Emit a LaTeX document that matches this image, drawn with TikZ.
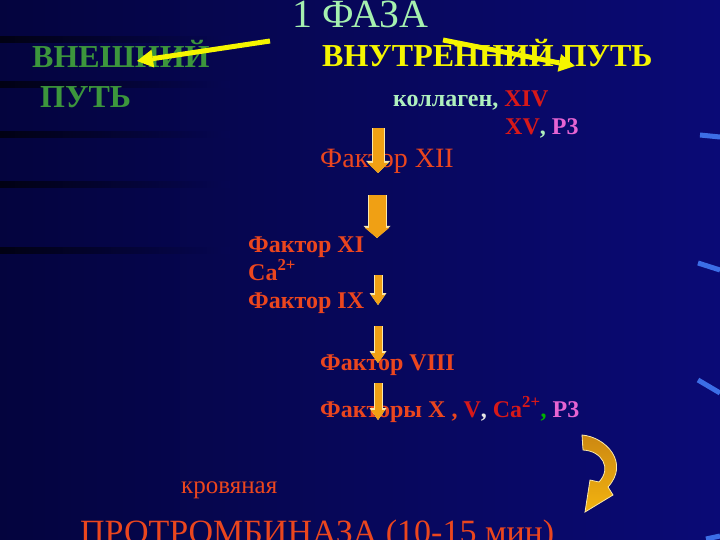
\documentclass[tikz,border=0pt]{standalone}
\usepackage{fontspec}
\setmainfont{Liberation Serif}
\usetikzlibrary{arrows.meta}
\definecolor{bgdark}{RGB}{4,4,62}
\definecolor{bglight}{RGB}{10,10,118}
\definecolor{bgmid}{RGB}{6,6,82}
\definecolor{phasegreen}{RGB}{165,240,175}
\definecolor{pathgreen}{RGB}{60,150,60}
\definecolor{pathyellow}{RGB}{245,245,0}
\definecolor{palegreen}{RGB}{175,240,190}
\definecolor{factred}{RGB}{235,70,30}
\definecolor{deepred}{RGB}{215,25,25}
\definecolor{pthree}{RGB}{230,100,210}
\definecolor{flowfill}{RGB}{240,160,20}
\definecolor{flowedge}{RGB}{250,232,170}
\definecolor{streak}{RGB}{60,110,230}
\newcommand{\fsz}[1]{\fontsize{#1}{#1}\selectfont}

\begin{document}
\begin{tikzpicture}
[x=1pt, y=-1pt,
 nodes={inner sep=0pt, anchor=base west},
 title/.style={font=\fsz{40}, text=phasegreen, anchor=base},
 way/.style={font=\fsz{32}\bfseries},
 factor/.style={font=\fsz{24}\bfseries, text=factred},
 pointer/.style={draw=pathyellow, line width=5pt, -{Triangle[length=16pt,width=18pt,line width=0pt]}},
 flow/.style n args={4}{preaction={draw=flowedge, line width=#2, -{Triangle[length=12pt,width=#4,line width=0pt]}},
   draw=flowfill, line width=#1, -{Triangle[length=10pt,width=#3,line width=0pt]}}]
\useasboundingbox (0,0) rectangle (720,540);
% background
\shade[left color=bgdark, right color=bglight] (0,0) rectangle (720,540);
\foreach \y in {40,85,135,185,250}
  \shade[left color=black!70!bgdark, right color=bgmid] (0,\y-3) rectangle (230,\y+3);
\draw[streak, line width=5pt] (700,135) -- (720,137);
\draw[streak, line width=5pt] (698,263) -- (720,270);
\draw[streak, line width=5pt] (698,380) -- (720,393);
\draw[streak, line width=5pt] (706,539) -- (720,536);

% headings
\node[title] (phase) at (360,28) {1 ФАЗА};
\node[way, text=pathgreen] (outer) at (32,68) {ВНЕШНИЙ};
\node[way, text=pathgreen] (outerway) at (40,108) {ПУТЬ};
\node[way, text=pathyellow] (inner) at (322,67) {ВНУТРЕННИЙ ПУТЬ};
\node[factor, text=palegreen] (collagen) at (393,107) {коллаген, \textcolor{deepred}{XIV}};
\node[factor, text=deepred] (fxv) at (505,135) {XV\textcolor{palegreen}{,} \textcolor{pthree}{P3}};

% cascade
\node[factor, font=\fsz{28}] (f12) at (320,168) {Фактор XII};
\node[factor] (f11) at (248,252) {Фактор XI};
\node[factor] (ca) at (248,280) {Ca\textsuperscript{2+}};
\node[factor] (f9) at (248,308) {Фактор IX};
\node[factor] (f8) at (320,370) {Фактор VIII};
\node[factor] (f10) at (320,417) {Факторы X , \textcolor{deepred}{V}\textcolor{white!80!gray}{,}
  \textcolor{deepred}{Ca\textsuperscript{2+}}\textcolor{green!70!black}{,} \textcolor{pthree}{P3}};
\node[factor, font=\fsz{25}] (blood) at (181,493) {кровяная};
\node[factor, font=\fsz{34}] (prothr) at (80,543) {ПРОТРОМБИНАЗА (10-15 мин)};

% arrows
\coordinate (ls) at (270,41);
\coordinate (le) at (137,61);
\coordinate (rs) at (443,40);
\coordinate (re) at (575,66);
\draw[pointer] (ls) -- (le);
\draw[pointer] (rs) -- (re);

\coordinate (a1) at (378,128);
\coordinate (a1e) at (378,173);
\coordinate (a2) at (377,195);
\coordinate (a2e) at (377,238);
\coordinate (a3) at (378,275);
\coordinate (a3e) at (378,305);
\coordinate (a4) at (378,326);
\coordinate (a4e) at (378,363);
\coordinate (a5) at (378,383);
\coordinate (a5e) at (378,420);
\draw[flow={11pt}{13pt}{21pt}{24pt}] (a1) -- (a1e);
\draw[flow={17pt}{19pt}{24pt}{27pt}] (a2) -- (a2e);
\draw[flow={7pt}{9pt}{14pt}{17pt}] (a3) -- (a3e);
\draw[flow={7pt}{9pt}{14pt}{17pt}] (a4) -- (a4e);
\draw[flow={7pt}{9pt}{14pt}{17pt}] (a5) -- (a5e);

% turn arrow
\shadedraw[top color=flowfill!85!black, bottom color=flowfill!80!yellow, draw=flowedge, line width=.8pt]
  (582,435) .. controls (606,437) and (630,463) .. (608,487) -- (613,495) -- (585,512)
  -- (590,480) -- (599,482) .. controls (612,468) and (602,451) .. (583,450) -- cycle;
\end{tikzpicture}
\end{document}
